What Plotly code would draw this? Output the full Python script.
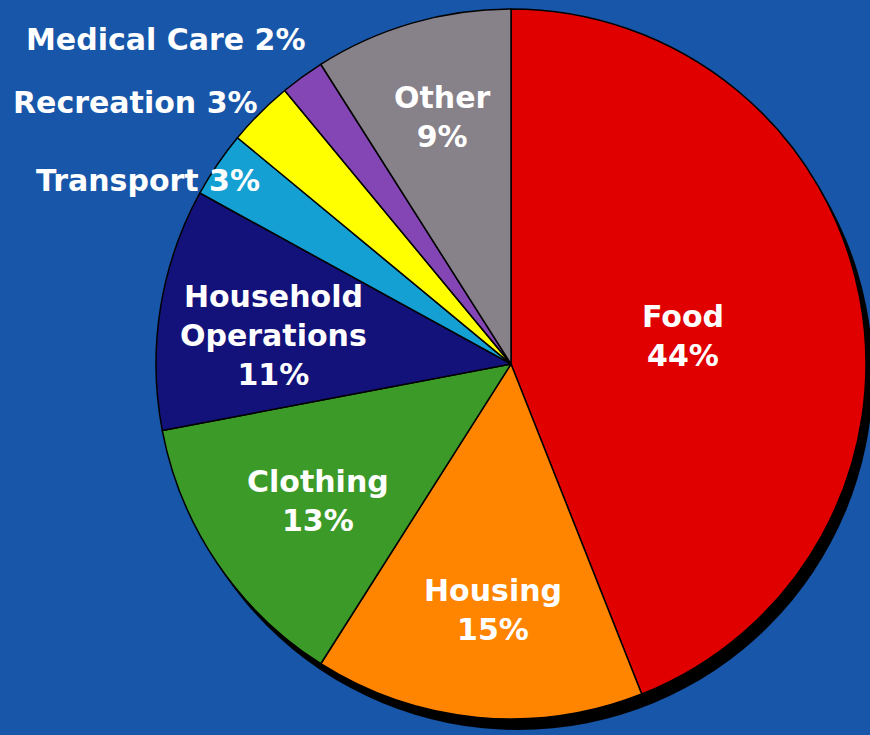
import plotly.graph_objects as go

# ---- data ----
categories = ["Food", "Housing", "Clothing", "Household Operations",
              "Transport", "Recreation", "Medical Care", "Other"]
shares = [44, 15, 13, 11, 3, 3, 2, 9]
label_text = ["Food", "Housing", "Clothing", "Household<br>Operations",
              "Transport", "Recreation", "Medical Care", "Other"]
colors = ["#e00000", "#ff8400", "#3c9a28", "#12127a",
          "#14a0d2", "#ffff00", "#8446b4", "#878189"]
inside = [True, True, True, True, False, False, False, True]

W, H = 870, 735
BG = "#1756a9"

# pie box in pixels (layout)
left, right, top, bottom = 156, 866, 9, 719
dom_x = [left / W, right / W]
dom_y = [1 - bottom / H, 1 - top / H]

fig = go.Figure()
fig.add_trace(go.Pie(
    labels=categories, values=shares, sort=False, direction="clockwise",
    rotation=0, marker=dict(colors=colors, line=dict(color="#000000", width=1.5)),
    textinfo="none", hoverinfo="label+percent", showlegend=False,
    domain=dict(x=dom_x, y=dom_y),
))

# drop shadow behind the pie
sdx, sdy = 7, 11
fig.add_shape(type="circle", xref="paper", yref="paper", layer="below",
              x0=(left + sdx) / W, x1=(right + sdx) / W,
              y0=1 - (bottom + sdy) / H, y1=1 - (top + sdy) / H,
              fillcolor="#000000", line=dict(width=0))

# label positions (pixel centres, layout only)
label_pos = {
    "Food": (683, 336),
    "Housing": (493, 610),
    "Clothing": (318, 501),
    "Household Operations": (273, 336),
    "Transport": (148, 180),
    "Recreation": (135, 103),
    "Medical Care": (166, 40),
    "Other": (442, 117),
}
for cat, txt, v, ins in zip(categories, label_text, shares, inside):
    px, py = label_pos[cat]
    text = f"{txt}<br>{v}%" if ins else f"{txt} {v}%"
    fig.add_annotation(x=px / W, y=1 - py / H, xref="paper", yref="paper",
                       text=text, showarrow=False, xanchor="center", yanchor="middle",
                       font=dict(family="DejaVu Sans", size=30, color="white", weight="bold"))

fig.update_layout(
    width=W, height=H, margin=dict(l=0, r=0, t=0, b=0),
    paper_bgcolor=BG, plot_bgcolor=BG,
)
fig.write_html(
    "out.html",
    config={"displayModeBar": False},
    post_script="document.body.style.margin='0';document.body.style.padding='0';"
                "document.body.style.background='" + BG + "';"
                "document.body.style.overflow='hidden';",
)
